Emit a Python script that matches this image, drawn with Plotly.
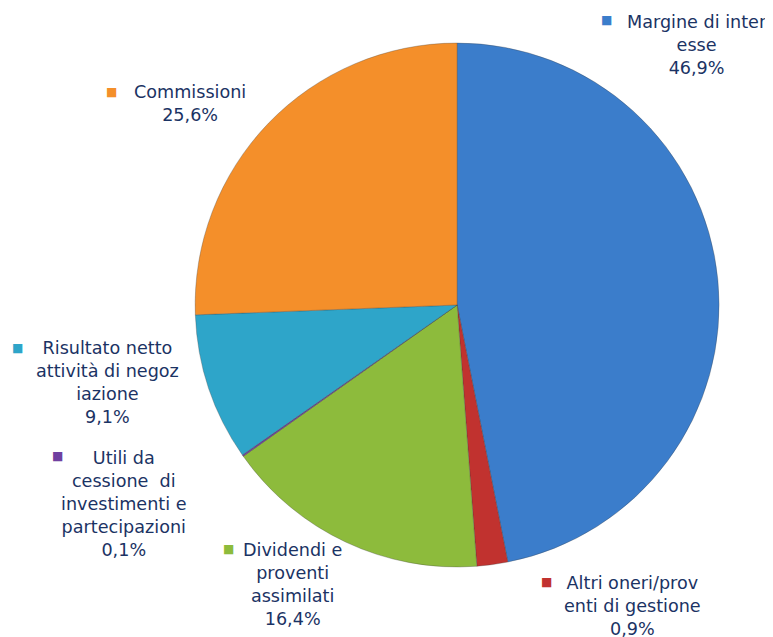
import plotly.graph_objects as go

# slices in clockwise order from 12 o'clock
categories = ['Margine di interesse', 'Altri oneri/proventi di gestione', 'Dividendi e proventi assimilati',
              'Utili da cessione di investimenti e partecipazioni', 'Risultato netto attività di negoziazione',
              'Commissioni']
# slice sizes as drawn (the red wedge is drawn ~1.9% wide)
values = [46.9, 1.9, 16.4, 0.1, 9.1, 25.6]
# percentages as printed on the labels
pct_labels = ['46,9%', '0,9%', '16,4%', '0,1%', '9,1%', '25,6%']
# label text, wrapped the way the source wraps it
label_text = ['Margine di inter<br>esse', 'Altri oneri/prov<br>enti di gestione', 'Dividendi e<br>proventi<br>assimilati',
              'Utili da<br>cessione  di<br>investimenti e<br>partecipazioni', 'Risultato netto<br>attività di negoz<br>iazione',
              'Commissioni']

colors = ['#3B7DCB', '#C1322F', '#8DBB3C', '#7040A0', '#2EA5C9', '#F48F2A']
text_color = '#1B3364'

fig = go.Figure()
fig.add_trace(go.Pie(
    labels=categories,
    values=values,
    sort=False,
    direction='clockwise',
    rotation=0,
    textinfo='none',
    marker=dict(colors=colors, line=dict(color='rgba(60,60,60,0.3)', width=1)),
    domain=dict(x=[0.242, 0.920], y=[0.1225, 0.945]),
    showlegend=False,
))

# label centre x and first-line centre y, marker centre (screen pixels)
label_pos = [(697, 22), (632, 583), (292, 550), (124, 458), (107, 348), (190, 92)]
marker_pos = [(606, 20), (546, 582), (228, 549), (57, 456), (17, 348), (112, 92)]

W, H = 773, 637
OFF = 8  # page body margin
for i in range(len(categories)):
    lx, ly = label_pos[i]
    mx, my = marker_pos[i]
    fig.add_annotation(x=(lx - OFF) / W, y=1 - (ly - OFF - 12) / H, xref='paper', yref='paper',
                       xanchor='center', yanchor='top', align='center', showarrow=False,
                       text=label_text[i] + '<br>' + pct_labels[i],
                       font=dict(family='DejaVu Sans', size=17.6, color=text_color))
    fig.add_annotation(x=(mx - OFF) / W, y=1 - (my - OFF) / H, xref='paper', yref='paper',
                       xanchor='center', yanchor='middle', showarrow=False,
                       text='■', font=dict(family='DejaVu Sans', size=12, color=colors[i]))

fig.update_layout(width=W, height=H, margin=dict(l=0, r=0, t=0, b=0),
                  paper_bgcolor='white', plot_bgcolor='white')

fig.write_html('out.html')
